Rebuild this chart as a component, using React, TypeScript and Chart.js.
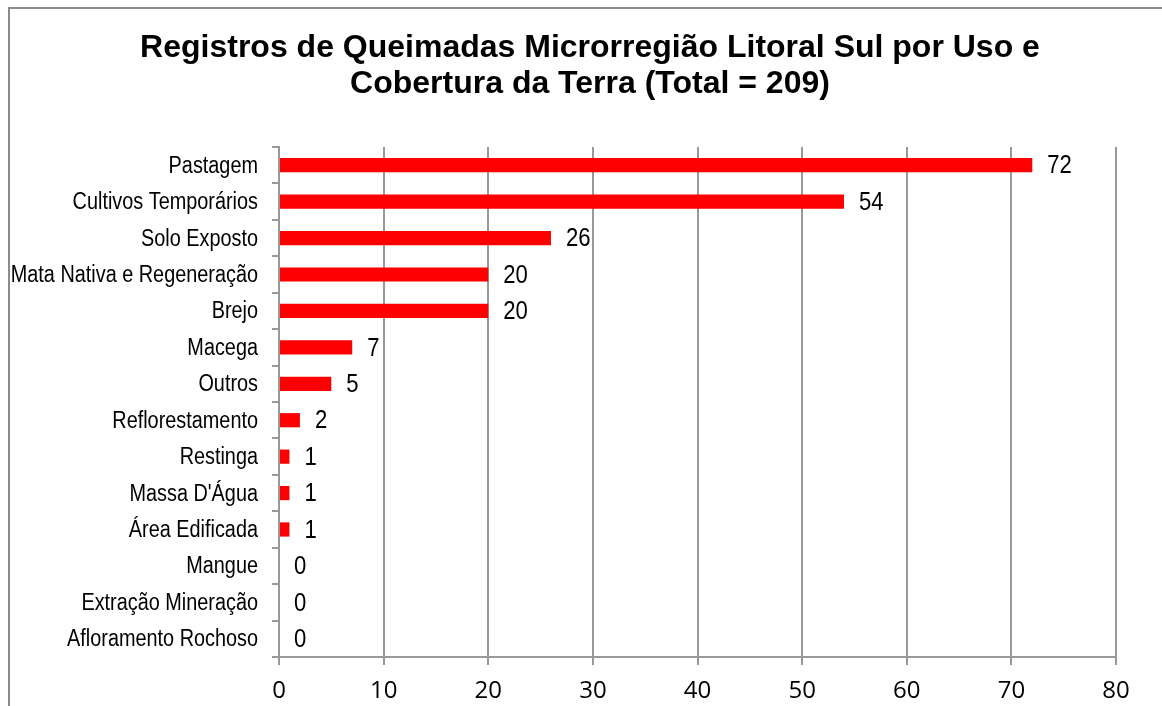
import React, { useEffect, useRef } from "react";
import { Chart, registerables } from "chart.js";

Chart.register(...registerables);

const categories = [
  "Pastagem",
  "Cultivos Temporários",
  "Solo Exposto",
  "Mata Nativa e Regeneração",
  "Brejo",
  "Macega",
  "Outros",
  "Reflorestamento",
  "Restinga",
  "Massa D'Água",
  "Área Edificada",
  "Mangue",
  "Extração Mineração",
  "Afloramento Rochoso",
];
const values = [72, 54, 26, 20, 20, 7, 5, 2, 1, 1, 1, 0, 0, 0];
const titleLines = [
  "Registros de Queimadas Microrregião Litoral Sul por Uso e",
  "Cobertura da Terra (Total = 209)",
];
const xMin = 0;
const xMax = 80;
const xStep = 10;

const SANS = "'Liberation Sans', Arial, sans-serif";

const decorPlugin = {
  id: "decor",
  beforeDraw(chart: any) {
    const ctx = chart.ctx;
    ctx.save();
    ctx.fillStyle = "#ffffff";
    ctx.fillRect(0, 0, chart.width, chart.height);
    ctx.strokeStyle = "#8c8c8c";
    ctx.lineWidth = 2;
    ctx.beginPath();
    ctx.moveTo(9, chart.height);
    ctx.lineTo(9, 8);
    ctx.lineTo(chart.width, 8);
    ctx.stroke();
    // title
    ctx.fillStyle = "#000";
    ctx.font = "bold 32px " + SANS;
    ctx.textAlign = "center";
    ctx.textBaseline = "alphabetic";
    ctx.fillText(titleLines[0], 590, 57);
    ctx.fillText(titleLines[1], 590, 93);
    ctx.restore();
  },
  afterDraw(chart: any) {
    // narrow-style category labels, positioned by the y scale
    const ctx = chart.ctx;
    const yScale = chart.scales.y;
    ctx.save();
    ctx.fillStyle = "#000";
    ctx.font = "23.5px " + SANS;
    ctx.textAlign = "right";
    ctx.textBaseline = "middle";
    chart.data.labels.forEach((lab: string, i: number) => {
      const y = yScale.getPixelForTick(i);
      ctx.save();
      ctx.translate(yScale.right - 21, y + 1);
      ctx.scale(0.845, 1);
      ctx.fillText(lab, 0, 0);
      ctx.restore();
    });
    ctx.restore();
  },
  afterDatasetsDraw(chart: any) {
    const ctx = chart.ctx;
    const meta = chart.getDatasetMeta(0);
    ctx.save();
    ctx.fillStyle = "#000";
    ctx.font = "26px " + SANS;
    ctx.textAlign = "left";
    ctx.textBaseline = "middle";
    meta.data.forEach((bar: any, i: number) => {
      const v = chart.data.datasets[0].data[i];
      ctx.save();
      ctx.translate(bar.x + 15, bar.y + 1);
      ctx.scale(0.85, 1);
      ctx.fillText(String(v), 0, 0);
      ctx.restore();
    });
    ctx.restore();
  },
};

export default function App() {
  const ref = useRef<HTMLCanvasElement>(null);
  useEffect(() => {
    if (!ref.current) return;
    const chart = new Chart(ref.current, {
      type: "bar",
      data: {
        labels: categories,
        datasets: [
          {
            data: values,
            backgroundColor: "#ff0000",
            borderWidth: 0,
            barPercentage: 0.39,
            categoryPercentage: 1,
          },
        ],
      },
      options: {
        indexAxis: "y",
        responsive: false,
        animation: false,
        layout: { padding: { top: 147, right: 46, bottom: 0, left: 0 } },
        plugins: {
          legend: { display: false },
          title: { display: false },
          tooltip: { enabled: false },
        },
        scales: {
          x: {
            min: xMin,
            max: xMax,
            ticks: {
              stepSize: xStep,
              color: "#000",
              font: { family: "'Open Sans', sans-serif", size: 24 },
              padding: 12,
            },
            grid: {
              color: "#999999",
              lineWidth: 2,
              tickLength: 8,
            },
            border: { color: "#999999", width: 2 },
            afterFit(scale: any) {
              scale.height = 49;
            },
          },
          y: {
            ticks: {
              display: false,
            },
            grid: {
              offset: true,
              drawOnChartArea: false,
              drawTicks: true,
              tickLength: 7,
              color: "#999999",
              lineWidth: 2,
            },
            border: { color: "#999999", width: 2 },
            afterFit(scale: any) {
              scale.width = 279;
            },
          },
        },
      },
      plugins: [decorPlugin],
    });
    return () => chart.destroy();
  }, []);
  return (
    <div style={{ position: "fixed", left: 0, top: 0, width: 1162, height: 706 }}>
      <canvas ref={ref} width={1162} height={706} style={{ display: "block" }} />
    </div>
  );
}
